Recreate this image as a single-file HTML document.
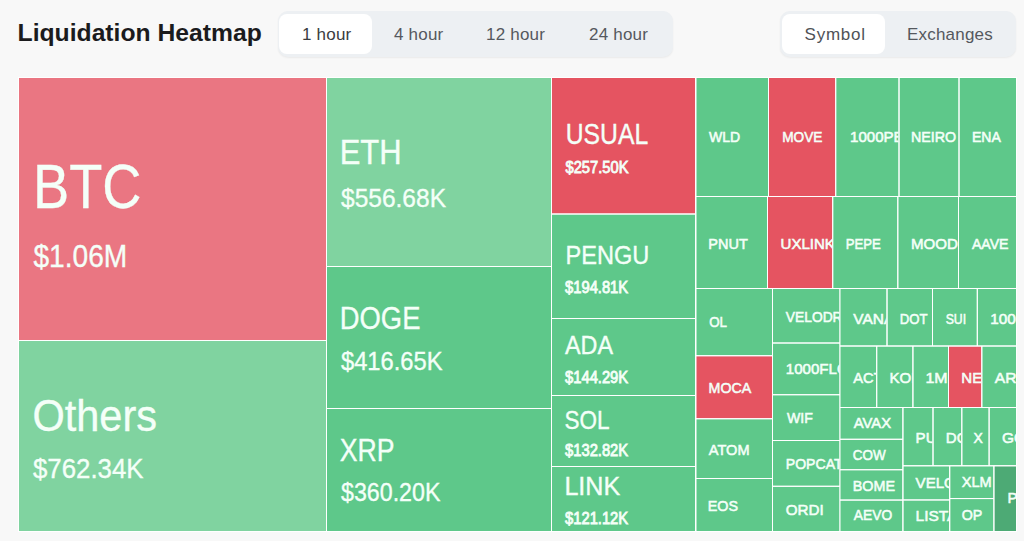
<!DOCTYPE html>
<html><head><meta charset="utf-8"><title>Liquidation Heatmap</title>
<style>
*{box-sizing:border-box;margin:0;padding:0}
html,body{width:1024px;height:541px;overflow:hidden;background:#f8f8f8;font-family:"Liberation Sans",Arial,sans-serif}
.title{position:absolute;left:17.6px;top:21.4px;font-size:24.7px;line-height:24.7px;font-weight:bold;color:#1b1b1d;white-space:nowrap}
.grp{position:absolute;top:10.6px;height:46.6px;background:#edf0f3;border-radius:10px;box-shadow:0 1px 2px rgba(0,0,0,0.06)}
.tab{position:absolute;top:3px;height:40.8px;border-radius:8px;font-size:17px;letter-spacing:0.2px;color:#55585e;line-height:40px;white-space:nowrap}
.tab.on{background:#fff;color:#3a3c41}
.tab span{position:absolute;top:1.3px}
#tm{position:absolute;left:0;top:0}
#tm text{fill:#f4fff8;font-family:"Liberation Sans",Arial,sans-serif}
#tm text.m{stroke:#f4fff8;stroke-width:0.55px;paint-order:stroke}
#tm text.v{stroke:#f4fff8;stroke-width:0.35px;paint-order:stroke}
#tm text.n{stroke:#f4fff8;stroke-width:0.85px;paint-order:stroke}
</style></head><body>
<div class="title">Liquidation Heatmap</div>
<div class="grp" style="left:278px;width:395px">
 <div class="tab on" style="left:1px;width:93px"><span style="left:23px">1 hour</span></div>
 <div class="tab" style="left:94px;width:94px"><span style="left:22px">4 hour</span></div>
 <div class="tab" style="left:188px;width:103px"><span style="left:20px">12 hour</span></div>
 <div class="tab" style="left:291px;width:103px"><span style="left:20px">24 hour</span></div>
</div>
<div class="grp" style="left:780px;width:236px">
 <div class="tab on" style="left:2px;width:103px"><span style="left:22.6px;letter-spacing:0.75px;color:#4f5257">Symbol</span></div>
 <div class="tab" style="left:105px;width:129px"><span style="left:22px">Exchanges</span></div>
</div>
<svg id="tm" width="1024" height="541" viewBox="0 0 1024 541">
<rect x="18" y="77" width="999" height="455" fill="#ffffff"/>
<svg x="19" y="78" width="307" height="262"><rect width="100%" height="100%" fill="#ea7682"/><text x="14" y="130.3" font-size="63" class="v" textLength="108.4" lengthAdjust="spacingAndGlyphs">BTC</text><text x="14.4" y="188.6" font-size="30.5" class="v" textLength="93.9" lengthAdjust="spacingAndGlyphs">$1.06M</text></svg>
<svg x="19" y="341" width="307" height="190"><rect width="100%" height="100%" fill="#80d3a0"/><text x="13.5" y="90.3" font-size="43.5" class="v" textLength="124.5" lengthAdjust="spacingAndGlyphs">Others</text><text x="14" y="137" font-size="27" class="v" textLength="110.5" lengthAdjust="spacingAndGlyphs">$762.34K</text></svg>
<svg x="327" y="78" width="224" height="188"><rect width="100%" height="100%" fill="#80d3a0"/><text x="12.7" y="85.9" font-size="34.7" class="v" textLength="62" lengthAdjust="spacingAndGlyphs">ETH</text><text x="14" y="129.1" font-size="25.3" class="v" textLength="105" lengthAdjust="spacingAndGlyphs">$556.68K</text></svg>
<svg x="327" y="267" width="224" height="141"><rect width="100%" height="100%" fill="#5ec88a"/><text x="12.8" y="62.3" font-size="32" class="v" textLength="80.6" lengthAdjust="spacingAndGlyphs">DOGE</text><text x="14" y="103.3" font-size="25.9" class="v" textLength="101.5" lengthAdjust="spacingAndGlyphs">$416.65K</text></svg>
<svg x="327" y="409" width="224" height="122"><rect width="100%" height="100%" fill="#5ec88a"/><text x="12.7" y="52.4" font-size="31" class="v" textLength="54.8" lengthAdjust="spacingAndGlyphs">XRP</text><text x="14" y="91.9" font-size="25.4" class="v" textLength="99.4" lengthAdjust="spacingAndGlyphs">$360.20K</text></svg>
<svg x="552" y="78" width="143" height="135.5"><rect width="100%" height="100%" fill="#e55461"/><text x="13.7" y="65.7" font-size="29" class="v" textLength="82.5" lengthAdjust="spacingAndGlyphs">USUAL</text><text x="13.5" y="95" font-size="16" class="n" textLength="63" lengthAdjust="spacingAndGlyphs">$257.50K</text></svg>
<svg x="552" y="214.5" width="143" height="103.5"><rect width="100%" height="100%" fill="#5ec88a"/><text x="13.5" y="49.3" font-size="26.7" class="v" textLength="83.8" lengthAdjust="spacingAndGlyphs">PENGU</text><text x="13.1" y="78.1" font-size="16" class="n" textLength="63" lengthAdjust="spacingAndGlyphs">$194.81K</text></svg>
<svg x="552" y="319" width="143" height="76"><rect width="100%" height="100%" fill="#5ec88a"/><text x="13" y="34.5" font-size="25" class="v" textLength="48" lengthAdjust="spacingAndGlyphs">ADA</text><text x="13.1" y="63.6" font-size="16" class="n" textLength="63" lengthAdjust="spacingAndGlyphs">$144.29K</text></svg>
<svg x="552" y="396" width="143" height="70"><rect width="100%" height="100%" fill="#5ec88a"/><text x="12.5" y="32.8" font-size="25" class="v" textLength="45" lengthAdjust="spacingAndGlyphs">SOL</text><text x="13.1" y="59.8" font-size="16" class="n" textLength="63" lengthAdjust="spacingAndGlyphs">$132.82K</text></svg>
<svg x="552" y="467" width="143" height="64"><rect width="100%" height="100%" fill="#5ec88a"/><text x="12.4" y="28.4" font-size="25.5" class="v" textLength="55.9" lengthAdjust="spacingAndGlyphs">LINK</text><text x="13.1" y="57.2" font-size="16" class="n" textLength="63" lengthAdjust="spacingAndGlyphs">$121.12K</text></svg>
<svg x="696.3" y="78" width="71.7" height="118"><rect width="100%" height="100%" fill="#5ec88a"/><text x="12.58" y="64" font-size="15" class="m" textLength="31.21" lengthAdjust="spacingAndGlyphs">WLD</text></svg>
<svg x="769" y="78" width="66.2" height="118"><rect width="100%" height="100%" fill="#e55461"/><text x="13.21" y="64" font-size="15" class="m" textLength="40.26" lengthAdjust="spacingAndGlyphs">MOVE</text></svg>
<svg x="836.2" y="78" width="62.3" height="118"><rect width="100%" height="100%" fill="#5ec88a"/><text x="13.8" y="64" font-size="15" class="m" textLength="73.71" lengthAdjust="spacingAndGlyphs">1000PEPE</text></svg>
<svg x="899.5" y="78" width="59" height="118"><rect width="100%" height="100%" fill="#5ec88a"/><text x="11.39" y="64" font-size="15" class="m" textLength="45.21" lengthAdjust="spacingAndGlyphs">NEIRO</text></svg>
<svg x="959.5" y="78" width="56.5" height="118"><rect width="100%" height="100%" fill="#5ec88a"/><text x="12.49" y="64" font-size="15" class="m" textLength="28.9" lengthAdjust="spacingAndGlyphs">ENA</text></svg>
<svg x="696.3" y="197" width="70.7" height="91"><rect width="100%" height="100%" fill="#5ec88a"/><text x="12.06" y="51.6" font-size="15" class="m" textLength="39.42" lengthAdjust="spacingAndGlyphs">PNUT</text></svg>
<svg x="768" y="197" width="64.2" height="91"><rect width="100%" height="100%" fill="#e55461"/><text x="12.5" y="51.6" font-size="15" class="m" textLength="54.42" lengthAdjust="spacingAndGlyphs">UXLINK</text></svg>
<svg x="833.2" y="197" width="64.1" height="91"><rect width="100%" height="100%" fill="#5ec88a"/><text x="12.45" y="51.6" font-size="15" class="m" textLength="35.16" lengthAdjust="spacingAndGlyphs">PEPE</text></svg>
<svg x="898.3" y="197" width="59.7" height="91"><rect width="100%" height="100%" fill="#5ec88a"/><text x="12.7" y="51.6" font-size="15" class="m" textLength="79.52" lengthAdjust="spacingAndGlyphs">MOODENG</text></svg>
<svg x="959" y="197" width="57" height="91"><rect width="100%" height="100%" fill="#5ec88a"/><text x="12.89" y="51.6" font-size="15" class="m" textLength="36.68" lengthAdjust="spacingAndGlyphs">AAVE</text></svg>
<svg x="696.3" y="289" width="75.7" height="66.2"><rect width="100%" height="100%" fill="#5ec88a"/><text x="12.9" y="37.9" font-size="15" class="m" textLength="17.82" lengthAdjust="spacingAndGlyphs">OL</text></svg>
<svg x="696.3" y="356.2" width="75.7" height="62"><rect width="100%" height="100%" fill="#e55461"/><text x="12.28" y="36.8" font-size="15" class="m" textLength="42.69" lengthAdjust="spacingAndGlyphs">MOCA</text></svg>
<svg x="696.3" y="419.2" width="75.7" height="58.8"><rect width="100%" height="100%" fill="#5ec88a"/><text x="12.5" y="36.1" font-size="15" class="m" textLength="40.71" lengthAdjust="spacingAndGlyphs">ATOM</text></svg>
<svg x="696.3" y="479" width="75.7" height="52"><rect width="100%" height="100%" fill="#5ec88a"/><text x="11.46" y="32" font-size="15" class="m" textLength="30.31" lengthAdjust="spacingAndGlyphs">EOS</text></svg>
<svg x="773" y="289" width="66.5" height="53.5"><rect width="100%" height="100%" fill="#5ec88a"/><text x="12.8" y="33" font-size="15" class="m" textLength="88.25" lengthAdjust="spacingAndGlyphs">VELODROME</text></svg>
<svg x="773" y="343.5" width="66.5" height="50.7"><rect width="100%" height="100%" fill="#5ec88a"/><text x="12.8" y="30.3" font-size="15" class="m" textLength="77.05" lengthAdjust="spacingAndGlyphs">1000FLOKI</text></svg>
<svg x="773" y="395.2" width="66.5" height="44.8"><rect width="100%" height="100%" fill="#5ec88a"/><text x="13.98" y="27.8" font-size="15" class="m" textLength="25.84" lengthAdjust="spacingAndGlyphs">WIF</text></svg>
<svg x="773" y="441" width="66.5" height="44.8"><rect width="100%" height="100%" fill="#5ec88a"/><text x="12.8" y="28.1" font-size="15" class="m" textLength="56.79" lengthAdjust="spacingAndGlyphs">POPCAT</text></svg>
<svg x="773" y="486.8" width="66.5" height="44.2"><rect width="100%" height="100%" fill="#5ec88a"/><text x="12.79" y="27.9" font-size="15" class="m" textLength="37.96" lengthAdjust="spacingAndGlyphs">ORDI</text></svg>
<svg x="840.3" y="289" width="46.2" height="56.5"><rect width="100%" height="100%" fill="#5ec88a"/><text x="13" y="35" font-size="15" class="m" textLength="41.03" lengthAdjust="spacingAndGlyphs">VANA</text></svg>
<svg x="887.5" y="289" width="44.5" height="56.5"><rect width="100%" height="100%" fill="#5ec88a"/><text x="12.16" y="35" font-size="15" class="m" textLength="27.82" lengthAdjust="spacingAndGlyphs">DOT</text></svg>
<svg x="933" y="289" width="43.8" height="56.5"><rect width="100%" height="100%" fill="#5ec88a"/><text x="12.65" y="35" font-size="15" class="m" textLength="20.5" lengthAdjust="spacingAndGlyphs">SUI</text></svg>
<svg x="977.8" y="289" width="38.2" height="56.5"><rect width="100%" height="100%" fill="#5ec88a"/><text x="12.5" y="35" font-size="15" class="m" textLength="72.87" lengthAdjust="spacingAndGlyphs">1000SATS</text></svg>
<svg x="840.3" y="346.5" width="35.9" height="60.5"><rect width="100%" height="100%" fill="#5ec88a"/><text x="13" y="36.3" font-size="15" class="m" textLength="29.3" lengthAdjust="spacingAndGlyphs">ACT</text></svg>
<svg x="877.2" y="346.5" width="35.2" height="60.5"><rect width="100%" height="100%" fill="#5ec88a"/><text x="12.3" y="36.3" font-size="15" class="m" textLength="44.37" lengthAdjust="spacingAndGlyphs">KOMA</text></svg>
<svg x="913.4" y="346.5" width="34.6" height="60.5"><rect width="100%" height="100%" fill="#5ec88a"/><text x="12.1" y="36.3" font-size="15" class="m" textLength="111.35" lengthAdjust="spacingAndGlyphs">1MBABYDOGE</text></svg>
<svg x="949" y="346.5" width="32.3" height="60.5"><rect width="100%" height="100%" fill="#e55461"/><text x="12.3" y="36.3" font-size="15" class="m" textLength="41.86" lengthAdjust="spacingAndGlyphs">NEAR</text></svg>
<svg x="982.3" y="346.5" width="33.7" height="60.5"><rect width="100%" height="100%" fill="#5ec88a"/><text x="12.5" y="36.3" font-size="15" class="m" textLength="32.13" lengthAdjust="spacingAndGlyphs">ARB</text></svg>
<svg x="840.3" y="408" width="62.1" height="30.8"><rect width="100%" height="100%" fill="#5ec88a"/><text x="13.5" y="20" font-size="15" class="m" textLength="37.22" lengthAdjust="spacingAndGlyphs">AVAX</text></svg>
<svg x="840.3" y="439.8" width="62.1" height="29.4"><rect width="100%" height="100%" fill="#5ec88a"/><text x="12.52" y="20" font-size="15" class="m" textLength="32.89" lengthAdjust="spacingAndGlyphs">COW</text></svg>
<svg x="840.3" y="470.2" width="62.1" height="29.4"><rect width="100%" height="100%" fill="#5ec88a"/><text x="12.47" y="20.6" font-size="15" class="m" textLength="42.31" lengthAdjust="spacingAndGlyphs">BOME</text></svg>
<svg x="840.3" y="500.6" width="62.1" height="30.4"><rect width="100%" height="100%" fill="#5ec88a"/><text x="13.49" y="19.9" font-size="15" class="m" textLength="38.37" lengthAdjust="spacingAndGlyphs">AEVO</text></svg>
<svg x="903.4" y="408" width="29.1" height="57.3"><rect width="100%" height="100%" fill="#5ec88a"/><text x="12.2" y="35" font-size="15" class="m" textLength="60.26" lengthAdjust="spacingAndGlyphs">PUFFER</text></svg>
<svg x="933.5" y="408" width="27.8" height="57.3"><rect width="100%" height="100%" fill="#5ec88a"/><text x="12.3" y="35" font-size="15" class="m" textLength="44.37" lengthAdjust="spacingAndGlyphs">DOGS</text></svg>
<svg x="962.3" y="408" width="26.3" height="57.3"><rect width="100%" height="100%" fill="#5ec88a"/><text x="11.3" y="35" font-size="15" class="m" textLength="9.3" lengthAdjust="spacingAndGlyphs">X</text></svg>
<svg x="989.6" y="408" width="26.4" height="57.3"><rect width="100%" height="100%" fill="#5ec88a"/><text x="12.4" y="35" font-size="15" class="m" textLength="42.69" lengthAdjust="spacingAndGlyphs">GOAT</text></svg>
<svg x="903.4" y="466.3" width="45.8" height="33.1"><rect width="100%" height="100%" fill="#5ec88a"/><text x="12.2" y="21.8" font-size="15" class="m" textLength="40.2" lengthAdjust="spacingAndGlyphs">VELO</text></svg>
<svg x="903.4" y="500.4" width="45.8" height="30.6"><rect width="100%" height="100%" fill="#5ec88a"/><text x="12.2" y="21" font-size="15" class="m" textLength="41.87" lengthAdjust="spacingAndGlyphs">LISTA</text></svg>
<svg x="950.2" y="466.3" width="43.2" height="31.8"><rect width="100%" height="100%" fill="#5ec88a"/><text x="11.59" y="21" font-size="15" class="m" textLength="29.93" lengthAdjust="spacingAndGlyphs">XLM</text></svg>
<svg x="950.2" y="499.1" width="43.2" height="31.9"><rect width="100%" height="100%" fill="#5ec88a"/><text x="11.58" y="20.6" font-size="15" class="m" textLength="20.58" lengthAdjust="spacingAndGlyphs">OP</text></svg>
<svg x="994.4" y="466.3" width="21.6" height="64.7"><rect width="100%" height="100%" fill="#4daa75"/><text x="13" y="36.7" font-size="15" class="m" textLength="30.15" lengthAdjust="spacingAndGlyphs">POL</text></svg>
</svg>
</body></html>
